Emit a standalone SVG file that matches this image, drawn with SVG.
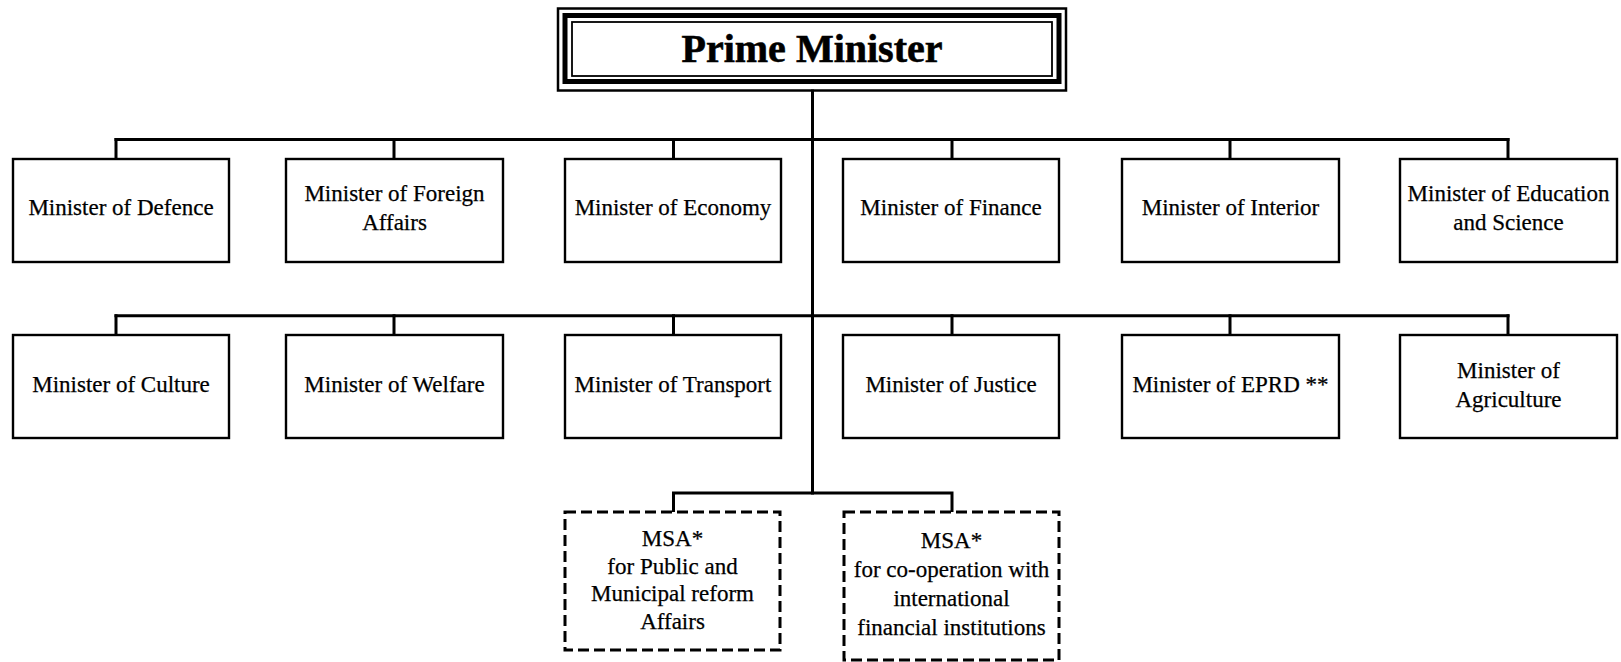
<svg xmlns="http://www.w3.org/2000/svg" width="1621" height="662" viewBox="0 0 1621 662">
<style>
  .bg { fill: #ffffff; }
  .box { fill: #ffffff; stroke: #000000; stroke-width: 2.4; }
  .dash { fill: #ffffff; stroke: #000000; stroke-width: 3; stroke-dasharray: 11 5; }
  .pmo { fill: none; stroke: #000000; stroke-width: 2.5; }
  .pmt { fill: none; stroke: #000000; stroke-width: 5; }
  .pmi { fill: none; stroke: #000000; stroke-width: 1.8; }
  .conn { fill: none; stroke: #000000; stroke-width: 3; stroke-linecap: square; }
  .lbl { font-family: "Liberation Serif", "Times New Roman", serif; font-size: 23px; fill: #000000; stroke: #000000; stroke-width: 0.25; text-anchor: middle; }
  .pm { font-family: "Liberation Serif", "Times New Roman", serif; font-size: 40px; font-weight: bold; fill: #000000; stroke: #000000; stroke-width: 0.6; text-anchor: middle; }
</style>
<rect class="bg" x="0" y="0" width="1621" height="662"/>

<g id="connectors">
  <path class="conn" d="M812.5 91 V493"/>
  <path class="conn" d="M116 139.5 H1508"/>
  <path class="conn" d="M116 139.5 V159 M394 139.5 V159 M673.5 139.5 V159 M952 139.5 V159 M1230 139.5 V159 M1508 139.5 V159"/>
  <path class="conn" d="M116 315.7 H1508"/>
  <path class="conn" d="M116 315.7 V335 M394 315.7 V335 M673.5 315.7 V335 M952 315.7 V335 M1230 315.7 V335 M1508 315.7 V335"/>
  <path class="conn" d="M673.5 493 H952 M673.5 493 V512 M952 493 V512"/>
</g>

<g id="pm">
  <rect class="pmo" x="558" y="8.5" width="508" height="82"/>
  <rect class="pmt" x="565" y="15.5" width="494" height="66"/>
  <rect class="pmi" x="572" y="22" width="480" height="54"/>
  <text class="pm" x="812" y="62">Prime Minister</text>
</g>

<g id="defence">
  <rect class="box" x="13" y="159" width="216" height="103"/>
  <text class="lbl" x="121" y="215">Minister of Defence</text>
</g>
<g id="foreign">
  <rect class="box" x="286" y="159" width="217" height="103"/>
  <text class="lbl" x="394.5" y="201">Minister of Foreign</text>
  <text class="lbl" x="394.5" y="230">Affairs</text>
</g>
<g id="economy">
  <rect class="box" x="565" y="159" width="216" height="103"/>
  <text class="lbl" x="673" y="215">Minister of Economy</text>
</g>
<g id="finance">
  <rect class="box" x="843" y="159" width="216" height="103"/>
  <text class="lbl" x="951" y="215">Minister of Finance</text>
</g>
<g id="interior">
  <rect class="box" x="1122" y="159" width="217" height="103"/>
  <text class="lbl" x="1230.5" y="215">Minister of Interior</text>
</g>
<g id="education">
  <rect class="box" x="1400" y="159" width="217" height="103"/>
  <text class="lbl" x="1508.5" y="201">Minister of Education</text>
  <text class="lbl" x="1508.5" y="230">and Science</text>
</g>

<g id="culture">
  <rect class="box" x="13" y="335" width="216" height="103"/>
  <text class="lbl" x="121" y="392">Minister of Culture</text>
</g>
<g id="welfare">
  <rect class="box" x="286" y="335" width="217" height="103"/>
  <text class="lbl" x="394.5" y="392">Minister of Welfare</text>
</g>
<g id="transport">
  <rect class="box" x="565" y="335" width="216" height="103"/>
  <text class="lbl" x="673" y="392">Minister of Transport</text>
</g>
<g id="justice">
  <rect class="box" x="843" y="335" width="216" height="103"/>
  <text class="lbl" x="951" y="392">Minister of Justice</text>
</g>
<g id="eprd">
  <rect class="box" x="1122" y="335" width="217" height="103"/>
  <text class="lbl" x="1230.5" y="392">Minister of EPRD **</text>
</g>
<g id="agriculture">
  <rect class="box" x="1400" y="335" width="217" height="103"/>
  <text class="lbl" x="1508.5" y="377.5">Minister of</text>
  <text class="lbl" x="1508.5" y="406.5">Agriculture</text>
</g>

<g id="msa-reform">
  <rect class="dash" x="565" y="512" width="215" height="138"/>
  <text class="lbl" x="672.5" y="546">MSA*</text>
  <text class="lbl" x="672.5" y="573.5">for Public and</text>
  <text class="lbl" x="672.5" y="601">Municipal reform</text>
  <text class="lbl" x="672.5" y="628.5">Affairs</text>
</g>
<g id="msa-ifi">
  <rect class="dash" x="844" y="512" width="215" height="148"/>
  <text class="lbl" x="951.5" y="548">MSA*</text>
  <text class="lbl" x="951.5" y="577">for co-operation with</text>
  <text class="lbl" x="951.5" y="606">international</text>
  <text class="lbl" x="951.5" y="635">financial institutions</text>
</g>
</svg>
